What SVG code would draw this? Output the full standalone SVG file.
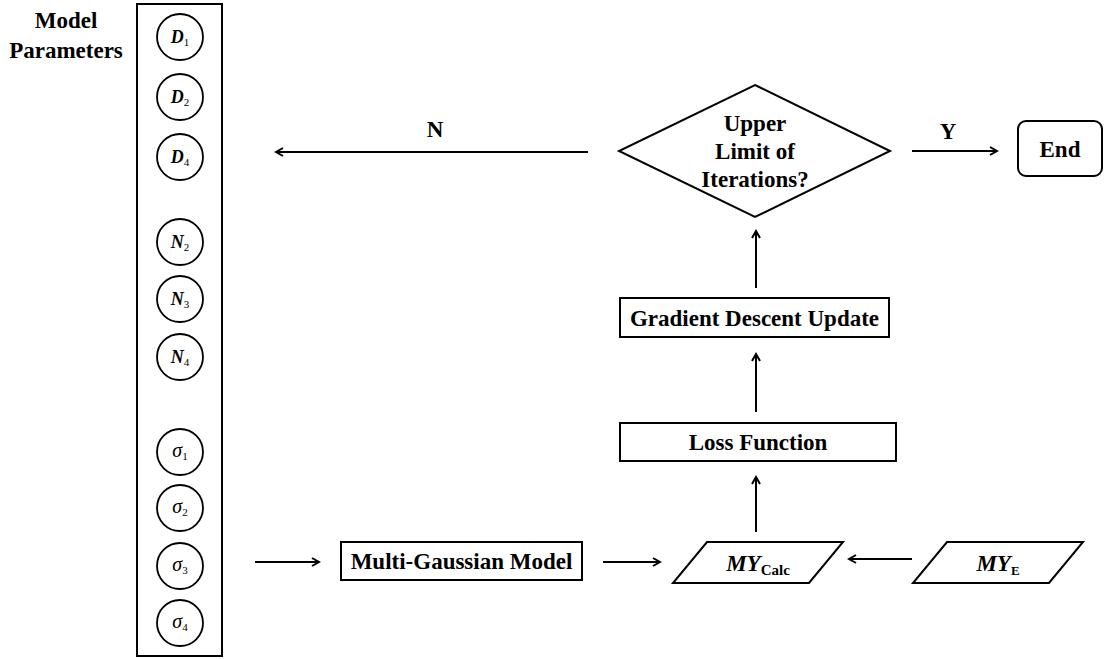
<svg xmlns="http://www.w3.org/2000/svg" width="1106" height="659" viewBox="0 0 1106 659">
<style>
.s{fill:none;stroke:#000;stroke-width:2}
.c{fill:#fff;stroke:#000;stroke-width:1.8}
.l{stroke:#000;stroke-width:2;fill:none}
.t{font-family:'Liberation Serif','Times New Roman',serif;font-weight:bold;font-size:23px;fill:#000;text-anchor:middle}
.v{font-family:'Liberation Serif','Times New Roman',serif;font-size:18px;font-style:italic;font-weight:bold;fill:#000;text-anchor:middle}
.g{font-weight:normal;font-size:20px}
.sub{font-size:11px;font-style:normal;font-weight:normal}
</style>
<defs>
<marker id="a" markerWidth="10" markerHeight="10" refX="8" refY="5" orient="auto" markerUnits="userSpaceOnUse">
<path d="M1,1 L8,5 L1,9" fill="none" stroke="#000" stroke-width="2"/>
</marker>
</defs>
<g id="label-model-parameters">
<text class="t" x="66" y="28">Model</text>
<text class="t" x="66" y="58">Parameters</text>
</g>
<g id="params">
<rect class="s" x="137" y="4" width="85" height="652"/>
<g id="p-D1"><circle class="c" cx="180" cy="37" r="23"/><text class="v" x="180" y="43">D<tspan class="sub" dy="3">1</tspan></text></g>
<g id="p-D2"><circle class="c" cx="180" cy="97" r="23"/><text class="v" x="180" y="103">D<tspan class="sub" dy="3">2</tspan></text></g>
<g id="p-D4"><circle class="c" cx="180" cy="157" r="23"/><text class="v" x="180" y="163">D<tspan class="sub" dy="3">4</tspan></text></g>
<g id="p-N2"><circle class="c" cx="180" cy="242" r="23"/><text class="v" x="180" y="248">N<tspan class="sub" dy="3">2</tspan></text></g>
<g id="p-N3"><circle class="c" cx="180" cy="299" r="23"/><text class="v" x="180" y="305">N<tspan class="sub" dy="3">3</tspan></text></g>
<g id="p-N4"><circle class="c" cx="180" cy="357" r="23"/><text class="v" x="180" y="363">N<tspan class="sub" dy="3">4</tspan></text></g>
<g id="p-s1"><circle class="c" cx="180" cy="452" r="23"/><text class="v g" x="180" y="457">σ<tspan class="sub" dy="3">1</tspan></text></g>
<g id="p-s2"><circle class="c" cx="180" cy="508" r="23"/><text class="v g" x="180" y="513">σ<tspan class="sub" dy="3">2</tspan></text></g>
<g id="p-s3"><circle class="c" cx="180" cy="566" r="23"/><text class="v g" x="180" y="571">σ<tspan class="sub" dy="3">3</tspan></text></g>
<g id="p-s4"><circle class="c" cx="180" cy="623" r="23"/><text class="v g" x="180" y="628">σ<tspan class="sub" dy="3">4</tspan></text></g>
</g>
<g id="multi-gaussian">
<rect class="s" x="341" y="542" width="241" height="38"/>
<text class="t" x="461.5" y="569">Multi-Gaussian Model</text>
</g>
<g id="my-calc">
<polygon class="s" points="707,542 843,542 809,583 673,583"/>
<text class="t" x="758" y="571" font-style="italic">MY<tspan font-style="normal" font-size="15" dy="4">Calc</tspan></text>
</g>
<g id="my-e">
<polygon class="s" points="947,542 1083,542 1049,583 913,583"/>
<text class="t" x="998" y="571" font-style="italic">MY<tspan font-style="normal" font-size="13" dy="4">E</tspan></text>
</g>
<g id="loss">
<rect class="s" x="620" y="423" width="276" height="38"/>
<text class="t" x="758" y="450">Loss Function</text>
</g>
<g id="gradient">
<rect class="s" x="620" y="298" width="269" height="39"/>
<text class="t" x="754.5" y="326">Gradient Descent Update</text>
</g>
<g id="decision">
<polygon class="s" points="755,85 890,151 755,217 619,151"/>
<text class="t" x="755" y="131">Upper</text>
<text class="t" x="755" y="159">Limit of</text>
<text class="t" x="755" y="187">Iterations?</text>
</g>
<g id="end">
<rect class="s" x="1018" y="121" width="84" height="55" rx="8"/>
<text class="t" x="1060" y="157">End</text>
</g>
<g id="connectors">
<line class="l" x1="255" y1="562" x2="319" y2="562" marker-end="url(#a)"/>
<line class="l" x1="603" y1="562" x2="660" y2="562" marker-end="url(#a)"/>
<line class="l" x1="912" y1="559" x2="849" y2="559" marker-end="url(#a)"/>
<line class="l" x1="756" y1="532" x2="756" y2="477" marker-end="url(#a)"/>
<line class="l" x1="756" y1="412" x2="756" y2="354" marker-end="url(#a)"/>
<line class="l" x1="756" y1="288" x2="756" y2="231" marker-end="url(#a)"/>
<line class="l" x1="588" y1="152" x2="276" y2="152" marker-end="url(#a)"/>
<line class="l" x1="912" y1="151" x2="997" y2="151" marker-end="url(#a)"/>
<text class="t" x="435" y="137">N</text>
<text class="t" x="948" y="139">Y</text>
</g>
</svg>
